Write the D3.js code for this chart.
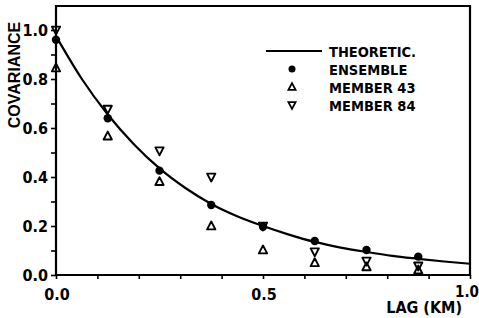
<!DOCTYPE html>
<html><head><meta charset="utf-8">
<script src="https://cdn.jsdelivr.net/npm/d3@7"></script>
<style>
body{margin:0;background:#fff;}
svg{display:block;}
text{font-family:"DejaVu Sans Condensed","DejaVu Sans",sans-serif;font-weight:bold;fill:#000;}
</style></head><body>
<svg id="c" width="479" height="318"></svg>
<script>
const lags = [0, 0.125, 0.25, 0.375, 0.5, 0.625, 0.75, 0.875];
const ensemble = [0.96, 0.64, 0.426, 0.286, 0.197, 0.139, 0.102, 0.075];
const member43 = [0.845, 0.567, 0.381, 0.2, 0.102, 0.05, 0.033, 0.02];
const member84 = [1.0, 0.677, 0.507, 0.4, 0.2, 0.095, 0.057, 0.037];
const theoLag = [0, 0.0625, 0.125, 0.1875, 0.25, 0.3125, 0.375, 0.4375, 0.5, 0.5625, 0.625, 0.6875, 0.75, 0.8125, 0.875, 0.9375, 1.0];
const theoVal = [0.975, 0.80, 0.655, 0.535, 0.435, 0.355, 0.29, 0.24, 0.2, 0.165, 0.135, 0.112, 0.094, 0.078, 0.066, 0.055, 0.046];
const xTickLabels = ["0.0", "0.5", "1.0"];
const yTickLabels = ["0.0", "0.2", "0.4", "0.6", "0.8", "1.0"];
const legendLabels = ["THEORETIC.", "ENSEMBLE", "MEMBER 43", "MEMBER 84"];

const svg = d3.select("#c");
const x = d3.scaleLinear().domain([0, 1]).range([56, 470]);
const y = d3.scaleLinear().domain([0, 1]).range([275, 30]);
const yTop = y(1.098);

// axes
const xAxis = d3.axisBottom(x).tickValues(d3.range(0, 1.0001, 0.1)).tickSize(4).tickFormat("");
const gx = svg.append("g").attr("transform", `translate(0,${y(0)})`).call(xAxis);
gx.select(".domain").remove();
gx.selectAll("line").attr("stroke", "#000").attr("stroke-width", 1.6);
const yAxis = d3.axisLeft(y).tickValues(d3.range(0, 1.0001, 0.1)).tickSize(5).tickFormat("");
const gy = svg.append("g").attr("transform", `translate(${x(0)},0)`).call(yAxis);
gy.select(".domain").remove();
gy.selectAll("line").attr("stroke", "#000").attr("stroke-width", 1.6);

// frame
svg.append("path")
  .attr("d", `M${x(0)},${y(0)} L${x(0)},${yTop} L${x(1)},${yTop} L${x(1)},${y(0)} Z`)
  .attr("fill", "none").attr("stroke", "#000").attr("stroke-width", 2.2);

// tick labels
svg.selectAll(".yl").data(yTickLabels).join("text")
  .attr("x", 48).attr("y", d => y(+d) + 6)
  .attr("text-anchor", "end").attr("font-size", 16).text(d => d);
svg.selectAll(".xl").data(xTickLabels.slice(0, 2)).join("text")
  .attr("x", d => x(+d) + 1).attr("y", 300)
  .attr("text-anchor", "middle").attr("font-size", 16).text(d => d);
svg.append("text").attr("x", 479).attr("y", 297).attr("text-anchor", "end")
  .attr("font-size", 15).text(xTickLabels[2]);

// axis titles
svg.append("text").attr("x", 462).attr("y", 313).attr("text-anchor", "end")
  .attr("font-size", 16).text("LAG (KM)");
svg.append("text").attr("transform", "translate(20,75) rotate(-90)").attr("text-anchor", "middle")
  .style("font-family", "'Liberation Sans Narrow',sans-serif").attr("font-size", 16).text("COVARIANCE");

// theoretical curve
const line = d3.line().x(d => x(d[0])).y(d => y(d[1])).curve(d3.curveMonotoneX);
svg.append("path").datum(theoLag.map((l, i) => [l, theoVal[i]]))
  .attr("d", line).attr("fill", "none").attr("stroke", "#000").attr("stroke-width", 2.2);

// markers
const triUp = (cx, cy, s) => `M${cx},${cy - s * 0.6} L${cx + s * 0.55},${cy + s * 0.45} L${cx - s * 0.55},${cy + s * 0.45} Z`;
const triDown = (cx, cy, s) => `M${cx},${cy + s * 0.6} L${cx + s * 0.55},${cy - s * 0.45} L${cx - s * 0.55},${cy - s * 0.45} Z`;

svg.selectAll(".m43").data(lags).join("path")
  .attr("d", (d, i) => triUp(x(d), y(member43[i]), 7.5))
  .attr("fill", "none").attr("stroke", "#000").attr("stroke-width", 1.9).attr("stroke-linejoin", "round");
svg.selectAll(".m84").data(lags).join("path")
  .attr("d", (d, i) => triDown(x(d), y(member84[i]), 7.5))
  .attr("fill", "none").attr("stroke", "#000").attr("stroke-width", 1.9).attr("stroke-linejoin", "round");
svg.selectAll(".ens").data(lags).join("circle")
  .attr("cx", d => x(d)).attr("cy", (d, i) => y(ensemble[i])).attr("r", 4.2).attr("fill", "#000");

// legend
const ly = [51, 69, 87, 105];
svg.append("line").attr("x1", 266).attr("x2", 322).attr("y1", ly[0]).attr("y2", ly[0])
  .attr("stroke", "#000").attr("stroke-width", 2.2);
svg.append("circle").attr("cx", 292).attr("cy", ly[1]).attr("r", 3.5).attr("fill", "#000");
svg.append("path").attr("d", triUp(292, ly[2], 6.5)).attr("fill", "none").attr("stroke", "#000").attr("stroke-width", 1.8);
svg.append("path").attr("d", triDown(292, ly[3], 6.5)).attr("fill", "none").attr("stroke", "#000").attr("stroke-width", 1.8);
svg.selectAll(".lt").data(legendLabels).join("text")
  .attr("x", 329).attr("y", (d, i) => ly[i] + 5.5).attr("font-size", 14.5).text(d => d);
</script>
</body></html>
